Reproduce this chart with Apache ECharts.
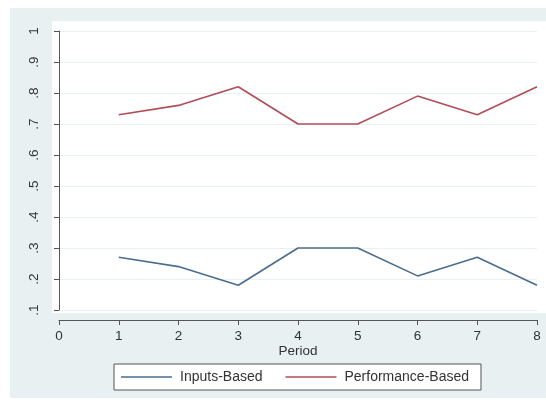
<!DOCTYPE html>
<html>
<head>
<meta charset="utf-8">
<script src="https://cdn.jsdelivr.net/npm/echarts@6/dist/echarts.min.js"></script>
<style>html,body{margin:0;padding:0;background:#fff}#c{width:546px;height:402px}</style>
</head>
<body>
<div id="c"></div>
<script>
var periods = [1, 2, 3, 4, 5, 6, 7, 8];
var inputsBased = [0.27, 0.24, 0.18, 0.30, 0.30, 0.21, 0.27, 0.18];
var performanceBased = [0.73, 0.76, 0.82, 0.70, 0.70, 0.79, 0.73, 0.82];
var seriesNames = ['Inputs-Based', 'Performance-Based'];
var xTitle = 'Period';

function pairs(xs, ys) { return xs.map(function (x, i) { return [x, ys[i]]; }); }

var chart = echarts.init(document.getElementById('c'), null, { renderer: 'canvas' });
var font = '"Liberation Sans", Arial, sans-serif';
chart.setOption({
  backgroundColor: '#ffffff',
  animation: false,
  graphic: [
    { type: 'rect', z: -100, silent: true, shape: { x: 10, y: 8, width: 536, height: 390 }, style: { fill: '#e8f0f2' } },
    { type: 'rect', z: -90, silent: true, shape: { x: 52, y: 21, width: 494, height: 292 }, style: { fill: '#ffffff' } }
  ],
  grid: { left: 59, right: 9, top: 31, bottom: 92, show: false },
  xAxis: {
    type: 'value', min: 0, max: 8, interval: 1, offset: 10,
    name: xTitle, nameLocation: 'middle', nameGap: 24, nameMoveOverlap: false,
    nameTextStyle: { fontFamily: font, fontSize: 13.5, color: '#333', verticalAlign: 'top' },
    axisLine: { show: true, onZero: false, lineStyle: { color: '#555', width: 1 } },
    axisTick: { show: true, length: 5, lineStyle: { color: '#555' } },
    axisLabel: { margin: 9, fontFamily: font, fontSize: 13.5, color: '#333' },
    splitLine: { show: false }
  },
  yAxis: {
    type: 'value', min: 0.1, max: 1, interval: 0.1, offset: 9,
    axisLine: { show: true, lineStyle: { color: '#555', width: 1 } },
    axisTick: { show: true, length: 5, lineStyle: { color: '#555' } },
    axisLabel: {
      margin: 9, rotate: 90, fontFamily: font, fontSize: 13.5, color: '#333',
      formatter: function (v) { var r = Math.round(v * 10); return r === 10 ? '1' : '.' + r; }
    },
    splitLine: { show: true, lineStyle: { color: '#eaf1f2', width: 1 } }
  },
  legend: {
    left: 114, top: 364,
    padding: [6, 12, 6, 7],
    itemGap: 23, itemWidth: 51, itemHeight: 1.5, icon: 'rect',
    backgroundColor: '#ffffff', borderColor: '#555', borderWidth: 1,
    textStyle: { fontFamily: font, fontSize: 14, color: '#333', padding: [0, 0, 0, 3] },
    data: seriesNames
  },
  series: [
    { name: seriesNames[0], type: 'line', data: pairs(periods, inputsBased), symbol: 'none',
      lineStyle: { color: '#4a6d8e', width: 1.6 }, itemStyle: { color: '#4a6d8e' } },
    { name: seriesNames[1], type: 'line', data: pairs(periods, performanceBased), symbol: 'none',
      lineStyle: { color: '#b24c57', width: 1.6 }, itemStyle: { color: '#b24c57' } }
  ]
});
</script>
</body>
</html>
